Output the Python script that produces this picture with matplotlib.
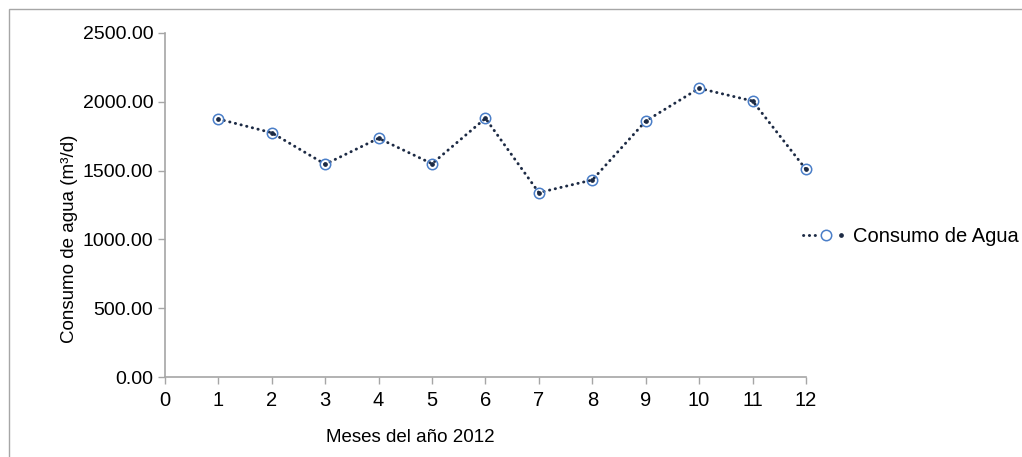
import matplotlib.pyplot as plt
from matplotlib.patches import Rectangle
from matplotlib.legend_handler import HandlerTuple

plt.rcParams['font.family'] = ['Liberation Sans', 'DejaVu Sans']

# ---- Data ----
meses = [1, 2, 3, 4, 5, 6, 7, 8, 9, 10, 11, 12]
consumo = [1875, 1775, 1546, 1735, 1550, 1880, 1340, 1432, 1860, 2098, 2006, 1509]
yticks = [0, 500, 1000, 1500, 2000, 2500]
xticks = list(range(0, 13))

line_color = '#1c2a44'
marker_color = '#4a7ec8'
axis_color = '#a6a6a6'

fig = plt.figure(figsize=(10.22, 4.57), dpi=100)
# outer frame
fig.patches.append(Rectangle((9 / 1022, -0.01), 1.02, 1 - 9 / 457 + 0.01,
                             transform=fig.transFigure, fill=False,
                             edgecolor=axis_color, linewidth=1.0))

ax = fig.add_axes([0.1614, 0.175, 0.6272, 0.7528])

ln, = ax.plot(meses, consumo, linestyle=(0, (0.1, 1.9)), linewidth=2.1,
              color=line_color, dash_capstyle='round', zorder=2, clip_on=False)
mk, = ax.plot(meses, consumo, linestyle='none', marker='o', markersize=7.5,
              markerfacecolor='none', markeredgecolor=marker_color,
              markeredgewidth=1.1, zorder=3, clip_on=False)
dot, = ax.plot(meses, consumo, linestyle='none', marker='o', markersize=2.4,
               color=line_color, zorder=4, clip_on=False)

ax.set_xlim(0, 12)
ax.set_ylim(0, 2500)
ax.set_xticks(xticks)
ax.set_yticks(yticks)
ax.set_yticklabels([f'{v:.2f}' for v in yticks])
ax.tick_params(axis='both', colors=axis_color, labelcolor='black',
               labelsize=14, length=5, width=1, direction='out')
ax.tick_params(axis='x', pad=5, labelsize=14.5)
for side in ['top', 'right']:
    ax.spines[side].set_visible(False)
for side in ['left', 'bottom']:
    ax.spines[side].set_color(axis_color)
    ax.spines[side].set_linewidth(1.2)

fig.text(410 / 1022, 1 - 437 / 457, 'Meses del año 2012',
         fontsize=13.5, ha='center', va='center')
fig.text(70 / 1022, 1 - 239 / 457, 'Consumo de agua (m³/d)',
         fontsize=13.5, rotation=90, ha='center', va='center')

fig.legend([(ln, mk, dot)], ['Consumo de Agua'],
           handler_map={tuple: HandlerTuple(ndivide=None)}, numpoints=1,
           loc='center left', bbox_to_anchor=(0.786, 0.482), frameon=False,
           fontsize=14.5, handlelength=2.25, handletextpad=0.2,
           borderpad=0, borderaxespad=0)

fig.savefig('out.png', dpi=100)
